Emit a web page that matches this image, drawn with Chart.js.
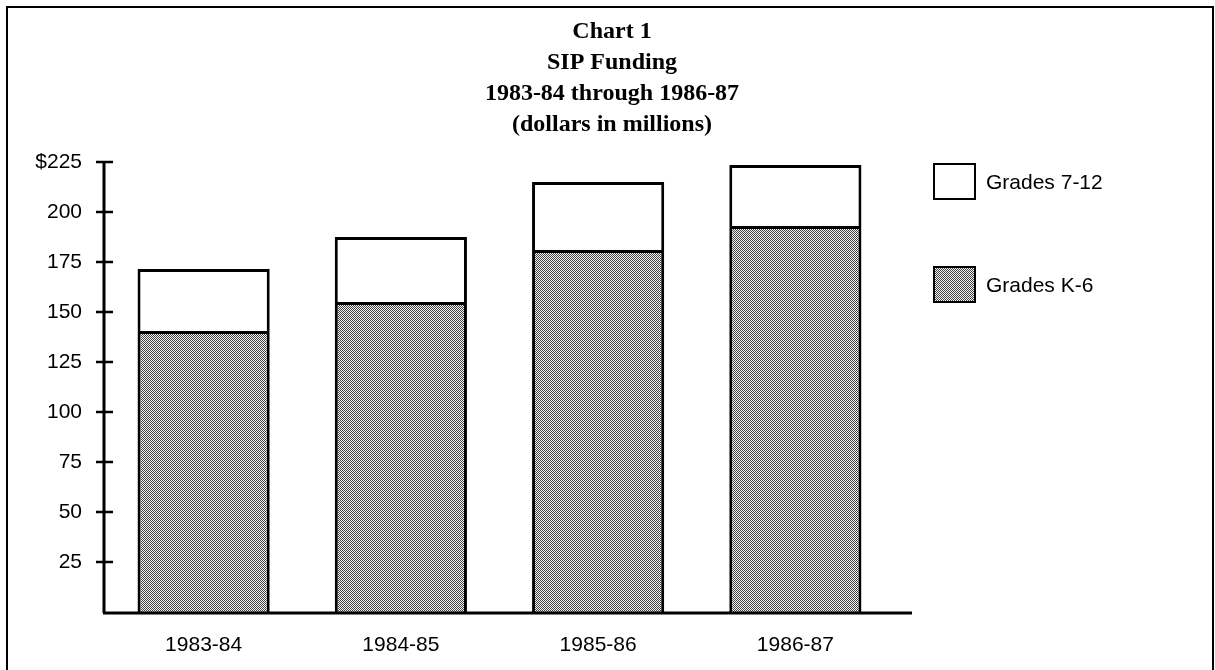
<!DOCTYPE html>
<html>
<head>
<meta charset="utf-8">
<title>Chart 1 - SIP Funding</title>
<script src="https://cdn.jsdelivr.net/npm/chart.js@4/dist/chart.umd.min.js"></script>
<style>
    html, body { margin: 0; padding: 0; background: #fff; overflow: hidden; }
    #frame {
        position: absolute; left: 6px; top: 6px; width: 1204px; height: 720px;
        border: 2px solid #000; border-bottom: none;
    }
    #wrap { position: absolute; left: 0; top: 0; width: 1215px; height: 670px; }
</style>
</head>
<body>
<div id="frame"></div>
<div id="wrap"><canvas id="sipChart"></canvas></div>
<script>
// Chart data (dollars in millions)
const years = ['1983-84', '1984-85', '1985-86', '1986-87'];
const gradesK6 = [140.5, 155, 181, 193];
const grades712 = [31, 32.5, 34, 30.5];
const yTicks = [25, 50, 75, 100, 125, 150, 175, 200, 225];
const titleLines = ['Chart 1', 'SIP Funding', '1983-84 through 1986-87', '(dollars in millions)'];

const sansFont = '"Liberation Sans", Arial, sans-serif';

// Dotted fill like the printed screen tone
function makeDotPattern() {
    const c = document.createElement('canvas');
    c.width = 2;
    c.height = 2;
    const g = c.getContext('2d');
    g.fillStyle = '#f2f2f2';
    g.fillRect(0, 0, 2, 2);
    g.fillStyle = '#444444';
    g.fillRect(0, 0, 1, 1);
    g.fillRect(1, 1, 1, 1);
    return g.createPattern(c, 'repeat');
}
const dots = makeDotPattern();

// Title centred on the page, not on the plot
const titlePlugin = {
    id: 'pageTitle',
    afterDraw(chart) {
        const ctx = chart.ctx;
        ctx.save();
        ctx.font = 'bold 24px "Liberation Serif", "Times New Roman", serif';
        ctx.fillStyle = '#000';
        ctx.textAlign = 'center';
        ctx.textBaseline = 'middle';
        titleLines.forEach((line, i) => {
            ctx.fillText(line, 612, 32 + i * 31);
        });
        ctx.restore();
    }
};

// Axis lines with ticks crossing the axis, drawn through the scales
const axisPlugin = {
    id: 'axisPlugin',
    afterDatasetsDraw(chart) {
        const ctx = chart.ctx;
        const y = chart.scales.y;
        const x0 = chart.chartArea.left - 1;
        const yBase = y.getPixelForValue(0) + 1;
        ctx.save();
        ctx.strokeStyle = '#000';
        ctx.lineWidth = 3;
        ctx.beginPath();
        ctx.moveTo(x0, y.getPixelForValue(225));
        ctx.lineTo(x0, yBase);
        ctx.moveTo(x0 - 1, yBase);
        ctx.lineTo(chart.chartArea.right + 18, yBase);
        ctx.stroke();
        ctx.lineWidth = 2.5;
        yTicks.forEach(v => {
            const py = y.getPixelForValue(v);
            ctx.beginPath();
            ctx.moveTo(x0 - 8, py);
            ctx.lineTo(x0 + 9, py);
            ctx.stroke();
        });
        ctx.restore();
    }
};

// Legend on the right, 7-12 on top
const legendPlugin = {
    id: 'sideLegend',
    afterDraw(chart) {
        const ctx = chart.ctx;
        const items = chart.data.datasets.slice().reverse();
        ctx.save();
        ctx.font = '21px ' + sansFont;
        ctx.textBaseline = 'middle';
        items.forEach((ds, i) => {
            const bx = 934;
            const by = 164 + i * 103;
            ctx.fillStyle = ds.backgroundColor;
            ctx.fillRect(bx, by, 41, 35);
            ctx.strokeStyle = '#000';
            ctx.lineWidth = 2;
            ctx.strokeRect(bx, by, 41, 35);
            ctx.fillStyle = '#000';
            ctx.fillText(ds.label, bx + 52, by + 19);
        });
        ctx.restore();
    }
};

const ctx = document.getElementById('sipChart');
new Chart(ctx, {
    type: 'bar',
    data: {
        labels: years,
        datasets: [
            {
                label: 'Grades K-6',
                data: gradesK6,
                backgroundColor: dots,
                borderColor: '#000',
                borderWidth: 3,
                borderSkipped: 'bottom'
            },
            {
                label: 'Grades 7-12',
                data: grades712,
                backgroundColor: '#fff',
                borderColor: '#000',
                borderWidth: 3,
                borderSkipped: 'bottom'
            }
        ]
    },
    options: {
        responsive: true,
        maintainAspectRatio: false,
        animation: false,
        layout: { padding: { left: 0, right: 321, top: 162, bottom: 0 } },
        datasets: { bar: { barPercentage: 1, categoryPercentage: 0.67 } },
        scales: {
            x: {
                stacked: true,
                grid: { display: false, drawTicks: false },
                border: { display: false },
                ticks: {
                    color: '#000',
                    padding: 21,
                    font: { family: sansFont, size: 21 }
                },
                afterFit: function (scale) { scale.height = 58; }
            },
            y: {
                stacked: true,
                min: 0,
                max: 225,
                grid: { display: false, drawTicks: false },
                border: { display: false },
                ticks: {
                    stepSize: 25,
                    color: '#000',
                    padding: 23,
                    font: { family: sansFont, size: 21 },
                    callback: function (v) {
                        if (v === 0) return '';
                        return v === 225 ? '$225' : v;
                    }
                },
                afterFit: function (scale) { scale.width = 105; }
            }
        },
        plugins: {
            legend: { display: false },
            tooltip: { enabled: false },
            title: { display: false }
        }
    },
    plugins: [axisPlugin, legendPlugin, titlePlugin]
});
</script>
</body>
</html>
